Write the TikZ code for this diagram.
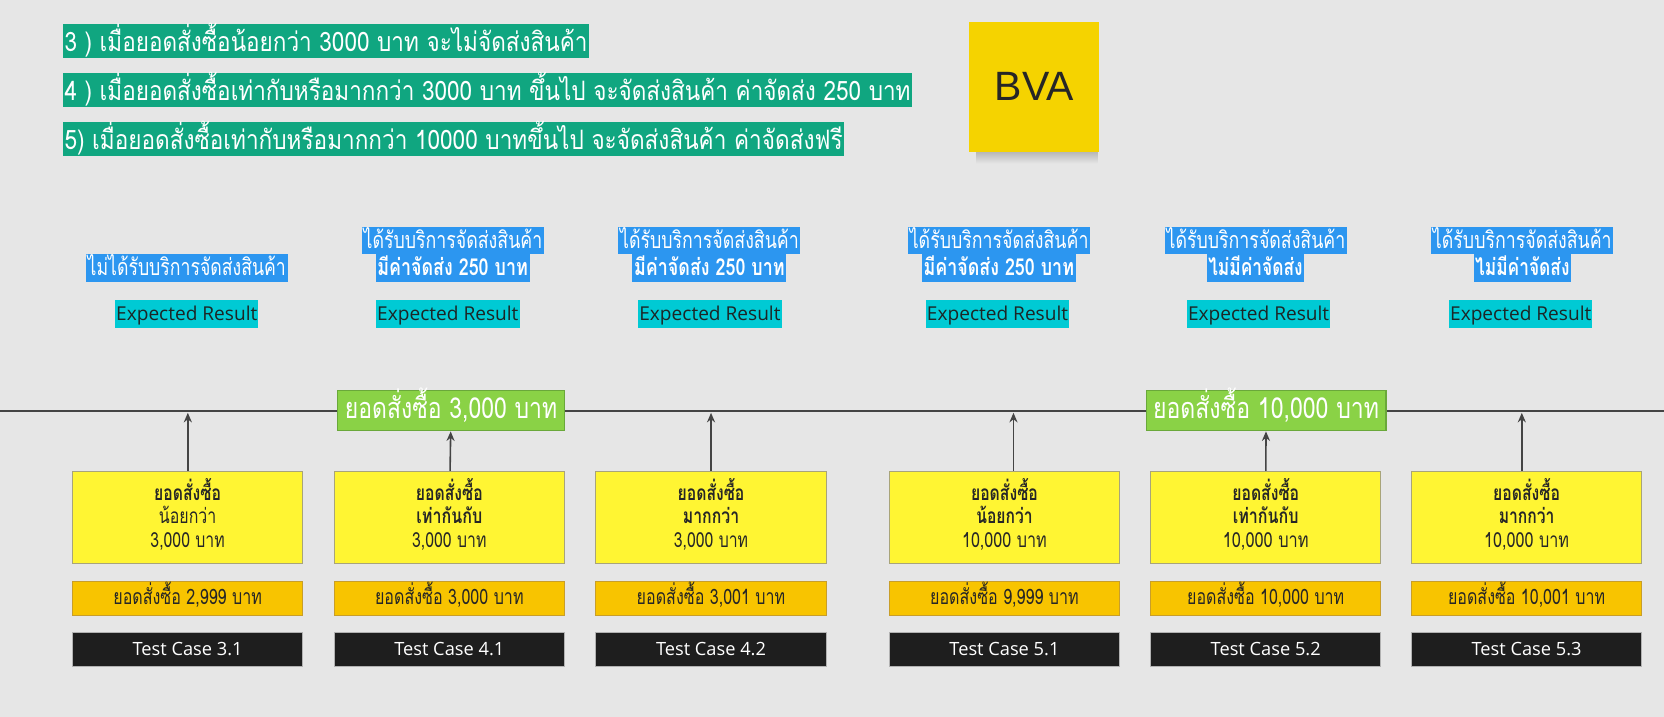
\documentclass[tikz,border=0pt]{standalone}
\usepackage{fontspec}
\usepackage{graphicx}
\setmainfont{Open Sans}
\newfontfamily\thai[Script=Thai]{Loma}
\newfontfamily\bvaf{Liberation Sans}
\usetikzlibrary{arrows.meta}
\definecolor{bgc}{HTML}{E6E6E6}
\definecolor{hdrg}{HTML}{10A680}
\definecolor{lblue}{HTML}{2C96F0}
\definecolor{cyanc}{HTML}{00CAD4}
\definecolor{exptext}{HTML}{1C2626}
\definecolor{mgreen}{HTML}{8AD246}
\definecolor{mgreenb}{HTML}{6AA83A}
\definecolor{yel}{HTML}{FFF533}
\definecolor{yelb}{HTML}{A8A47A}
\definecolor{orng}{HTML}{F8C400}
\definecolor{orngb}{HTML}{C89E2A}
\definecolor{blk}{HTML}{1E1E1E}
\definecolor{darktxt}{HTML}{262626}
\definecolor{linec}{HTML}{444444}
\definecolor{note}{HTML}{F5D300}
\newcommand\fitw[2]{\resizebox{#1}{\height}{#2}}
\tikzset{
  hdr/.style={anchor=west, fill=hdrg, text=white, inner xsep=0.7pt, inner ysep=0pt,
    text height=13pt, text depth=3pt, font=\thai\fontsize{12.6}{14}\selectfont},
  lblA/.style={fill=lblue, text=white, inner xsep=0.8pt, inner ysep=0pt,
    text height=9.95pt, text depth=2.7pt, font=\thai\fontsize{11}{13}\selectfont},
  lblB/.style={fill=lblue, text=white, inner xsep=0.8pt, inner ysep=0pt,
    text height=10pt, text depth=3.2pt, font=\thai\fontsize{11}{13}\selectfont},
  expbox/.style={fill=cyanc, text=exptext, inner xsep=0.5pt, inner ysep=0pt,
    minimum width=67pt, minimum height=13pt, text height=6.4pt, text depth=0pt,
    font=\fontsize{9}{10}\selectfont},
  mile/.style={fill=mgreen, draw=mgreenb, line width=0.5pt, text=white, inner sep=0pt,
    minimum height=19pt, text height=7.4pt, text depth=0pt,
    font=\thai\fontsize{13.6}{15}\selectfont},
  ybox/.style={fill=yel, draw=yelb, line width=0.4pt, minimum width=108.5pt,
    minimum height=43.5pt, inner sep=0pt},
  ytxt/.style={anchor=base, inner sep=0pt, text=darktxt,
    font=\thai\fontsize{9.8}{11}\selectfont},
  obox/.style={fill=orng, draw=orngb, line width=0.4pt, minimum width=108.5pt,
    minimum height=16pt, inner sep=0pt, text height=6pt, text depth=0pt,
    text=darktxt, font=\thai\fontsize{10}{11}\selectfont},
  bbox/.style={fill=blk, draw=gray!60, line width=0.4pt, minimum width=108.5pt,
    minimum height=16pt, inner sep=0pt, text height=6.1pt, text depth=0pt,
    text=white, font=\fontsize{8.6}{10}\selectfont},
  arr/.style={draw=linec, line width=0.75pt, -{Stealth[length=4.5pt,width=3.8pt]}},
  tline/.style={draw=linec, line width=1pt},
  bva/.style={fill=note, minimum width=61.5pt, minimum height=61.3pt, inner sep=0pt,
    text=darktxt, font=\bvaf\fontsize{19.3}{22}\selectfont}
}
\begin{document}
\begin{tikzpicture}[x=0.5pt,y=-0.5pt]
\useasboundingbox (0,0) rectangle (1568,675.6);
\fill[bgc] (0,0) rectangle (1568,675.6);

% headers
\node[hdr] (h3) at (59,38.75) {\fitw{246.4pt}{3 ) เมื่อยอดสั่งซื้อน้อยกว่า 3000 บาท จะไม่จัดส่งสินค้า}};
\node[hdr] (h4) at (59,84.5) {\fitw{398.6pt}{4 ) เมื่อยอดสั่งซื้อเท่ากับหรือมากกว่า 3000 บาท ขึ้นไป จะจัดส่งสินค้า ค่าจัดส่ง 250 บาท}};
\node[hdr] (h5) at (59,130.8) {\fitw{366.6pt}{5) เมื่อยอดสั่งซื้อเท่ากับหรือมากกว่า 10000 บาทขึ้นไป จะจัดส่งสินค้า ค่าจัดส่งฟรี}};

% BVA sticky note
\shade[top color=black!30!bgc, bottom color=bgc] (920,138) rectangle (1034,154);
\node[bva] (bvanote) at (974.5,81.7) {BVA};

% expected results labels
\node[lblB] (r1) at (176,252.5) {\fitw{93.4pt}{ไม่ได้รับบริการจัดส่งสินค้า}};
\node[lblA] (r2a) at (426.8,226.65) {\fitw{84.2pt}{ได้รับบริการจัดส่งสินค้า}};
\node[lblB] (r2b) at (426.5,252.5) {\fitw{70.9pt}{\bfseries มีค่าจัดส่ง 250 บาท}};
\node[lblA] (r3a) at (668.5,226.65) {\fitw{84.2pt}{ได้รับบริการจัดส่งสินค้า}};
\node[lblB] (r3b) at (668.5,252.5) {\fitw{70.9pt}{\bfseries มีค่าจัดส่ง 250 บาท}};
\node[lblA] (r4a) at (941.5,226.65) {\fitw{84.2pt}{ได้รับบริการจัดส่งสินค้า}};
\node[lblB] (r4b) at (941.2,252.5) {\fitw{70.9pt}{\bfseries มีค่าจัดส่ง 250 บาท}};
\node[lblA] (r5a) at (1183.5,226.65) {\fitw{84.2pt}{ได้รับบริการจัดส่งสินค้า}};
\node[lblB] (r5b) at (1183,252.5) {\fitw{44.4pt}{\bfseries ไม่มีค่าจัดส่ง}};
\node[lblA] (r6a) at (1434.5,226.65) {\fitw{84.2pt}{ได้รับบริการจัดส่งสินค้า}};
\node[lblB] (r6b) at (1434.5,252.5) {\fitw{44.4pt}{\bfseries ไม่มีค่าจัดส่ง}};

\node[expbox] (x1) at (176,296) {Expected Result};
\node[expbox] (x2) at (422,296) {Expected Result};
\node[expbox] (x3) at (669,296) {Expected Result};
\node[expbox] (x4) at (940,296) {Expected Result};
\node[expbox] (x5) at (1186,296) {Expected Result};
\node[expbox] (x6) at (1433,296) {Expected Result};

% timeline with milestones
\coordinate (tl) at (0,387);
\coordinate (tr) at (1568,387);
\node[mile, minimum width=107pt] (m1) at (425,387) {\fitw{100pt}{ยอดสั่งซื้อ 3,000 บาท}};
\node[mile, minimum width=113pt] (m2) at (1193,387) {\fitw{106.5pt}{ยอดสั่งซื้อ 10,000 บาท}};
\draw[tline] (tl) -- (m1) -- (m2) -- (tr);

% condition boxes
\node[ybox] (y1) at (176.8,487.5) {};
\node[ybox] (y2) at (423.4,487.5) {};
\node[ybox] (y3) at (670,487.5) {};
\node[ybox] (y4) at (946.5,487.5) {};
\node[ybox] (y5) at (1192.7,487.5) {};
\node[ybox] (y6) at (1438.5,487.5) {};

\node[ytxt] (y1a) at (176.8,471.6) {\fitw{31.5pt}{\bfseries ยอดสั่งซื้อ}};
\node[ytxt] (y1b) at (176.8,493.6) {\fitw{27pt}{น้อยกว่า}};
\node[ytxt] (y1c) at (176.8,515.6) {\fitw{35pt}{3,000 บาท}};
\node[ytxt] (y2a) at (423.4,471.6) {\fitw{31.5pt}{\bfseries ยอดสั่งซื้อ}};
\node[ytxt] (y2b) at (423.4,493.6) {\fitw{31pt}{\bfseries เท่ากันกับ}};
\node[ytxt] (y2c) at (423.4,515.6) {\fitw{35pt}{3,000 บาท}};
\node[ytxt] (y3a) at (670,471.6) {\fitw{31.5pt}{\bfseries ยอดสั่งซื้อ}};
\node[ytxt] (y3b) at (670,493.6) {\fitw{26.5pt}{\bfseries มากกว่า}};
\node[ytxt] (y3c) at (670,515.6) {\fitw{35pt}{3,000 บาท}};
\node[ytxt] (y4a) at (946.5,471.6) {\fitw{31.5pt}{\bfseries ยอดสั่งซื้อ}};
\node[ytxt] (y4b) at (946.5,493.6) {\fitw{26.5pt}{\bfseries น้อยกว่า}};
\node[ytxt] (y4c) at (946.5,515.6) {\fitw{40pt}{10,000 บาท}};
\node[ytxt] (y5a) at (1192.7,471.6) {\fitw{31.5pt}{\bfseries ยอดสั่งซื้อ}};
\node[ytxt] (y5b) at (1192.7,493.6) {\fitw{31pt}{\bfseries เท่ากันกับ}};
\node[ytxt] (y5c) at (1192.7,515.6) {\fitw{40.5pt}{10,000 บาท}};
\node[ytxt] (y6a) at (1438.5,471.6) {\fitw{31.5pt}{\bfseries ยอดสั่งซื้อ}};
\node[ytxt] (y6b) at (1438.5,493.6) {\fitw{26.2pt}{\bfseries มากกว่า}};
\node[ytxt] (y6c) at (1438.5,515.6) {\fitw{40pt}{10,000 บาท}};

% arrows
\coordinate (e1) at (177,389);
\coordinate (e3) at (670,389);
\coordinate (e4) at (955,389);
\coordinate (e6) at (1434,389);
\draw[arr] (y1.north -| e1) -- (e1);
\draw[arr] (y2) -- (m1);
\draw[arr] (y3.north -| e3) -- (e3);
\draw[arr] (y4.north -| e4) -- (e4);
\draw[arr] (y5) -- (m2);
\draw[arr] (y6.north -| e6) -- (e6);

% values
\node[obox] (o1) at (176.8,564) {\fitw{70pt}{ยอดสั่งซื้อ 2,999 บาท}};
\node[obox] (o2) at (423.4,564) {\fitw{70pt}{ยอดสั่งซื้อ 3,000 บาท}};
\node[obox] (o3) at (670,564) {\fitw{70pt}{ยอดสั่งซื้อ 3,001 บาท}};
\node[obox] (o4) at (946.5,564) {\fitw{70pt}{ยอดสั่งซื้อ 9,999 บาท}};
\node[obox] (o5) at (1192.7,564) {\fitw{74pt}{ยอดสั่งซื้อ 10,000 บาท}};
\node[obox] (o6) at (1438.5,564) {\fitw{74pt}{ยอดสั่งซื้อ 10,001 บาท}};

% test cases
\node[bbox] (t1) at (176.8,612) {Test Case 3.1};
\node[bbox] (t2) at (423.4,612) {Test Case 4.1};
\node[bbox] (t3) at (670,612) {Test Case 4.2};
\node[bbox] (t4) at (946.5,612) {Test Case 5.1};
\node[bbox] (t5) at (1192.7,612) {Test Case 5.2};
\node[bbox] (t6) at (1438.5,612) {Test Case 5.3};
\end{tikzpicture}
\end{document}
